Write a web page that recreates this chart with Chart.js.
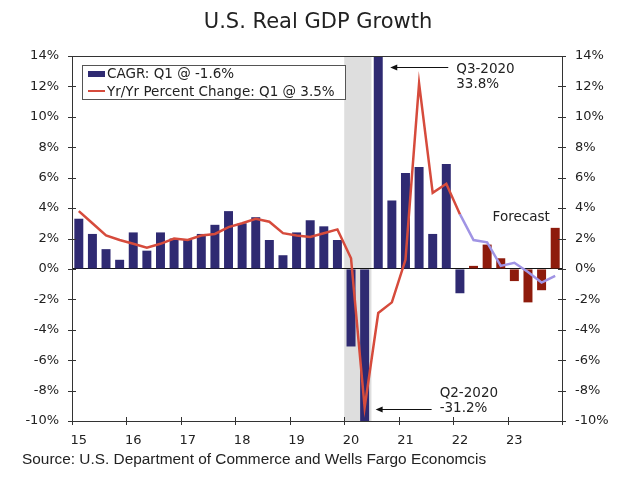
<!DOCTYPE html>
<html>
<head>
<meta charset="utf-8">
<title>U.S. Real GDP Growth</title>
<script src="https://cdn.jsdelivr.net/npm/chart.js@4"></script>
<style>
    body { margin: 0; background: #ffffff; }
    canvas { display: block; }
</style>
</head>
<body>
<canvas id="gdpChart" width="630" height="497"></canvas>
<script>
// quarters shown on the x axis, 2015 Q1 to 2023 Q4
const quarters = [
    '15Q1', '15Q2', '15Q3', '15Q4', '16Q1', '16Q2', '16Q3', '16Q4',
    '17Q1', '17Q2', '17Q3', '17Q4', '18Q1', '18Q2', '18Q3', '18Q4',
    '19Q1', '19Q2', '19Q3', '19Q4', '20Q1', '20Q2', '20Q3', '20Q4',
    '21Q1', '21Q2', '21Q3', '21Q4', '22Q1', '22Q2', '22Q3', '22Q4',
    '23Q1', '23Q2', '23Q3', '23Q4'
];

// CAGR, actual (15Q1 - 22Q1)
const cagrActual = [
    3.3, 2.3, 1.3, 0.6,
    2.4, 1.2, 2.4, 2.0,
    1.9, 2.3, 2.9, 3.8,
    3.0, 3.4, 1.9, 0.9,
    2.4, 3.2, 2.8, 1.9,
    -5.1, -31.2, 33.8, 4.5,
    6.3, 6.7, 2.3, 6.9,
    -1.6
];
// CAGR, forecast (22Q2 - 23Q4)
const cagrForecast = [0.2, 1.6, 0.7, -0.8, -2.2, -1.4, 2.7];

// Yr/Yr percent change, actual (15Q1 - 22Q1)
const yoyActual = [
    3.8, 3.0, 2.2, 1.9,
    1.65, 1.4, 1.65, 2.0,
    1.9, 2.2, 2.3, 2.75,
    3.0, 3.3, 3.1, 2.35,
    2.2, 2.1, 2.35, 2.6,
    0.7, -9.1, -2.9, -2.2,
    0.6, 12.2, 5.0, 5.6,
    3.6
];
// Yr/Yr percent change, forecast (22Q1 - 23Q4)
const yoyForecast = [3.6, 1.9, 1.75, 0.2, 0.4, -0.2, -0.9, -0.45];

const recessionQuarters = ['20Q1', '20Q2'];
const yTicks = { min: -10, max: 14, step: 2 };

const navy = '#2f2a72';
const darkRed = '#8e1b0c';
const lineRed = '#d64b3c';
const lavender = '#a094e4';
const axisColor = '#333333';
const textColor = '#222222';
const fontFamily = 'DejaVu Sans';

// pad series out to the full quarter range
const nulls = n => Array(n).fill(null);
const cagrActualData = cagrActual.concat(nulls(cagrForecast.length));
const cagrForecastData = nulls(cagrActual.length).concat(cagrForecast);
const yoyActualData = yoyActual.concat(nulls(quarters.length - yoyActual.length));
const yoyForecastData = nulls(yoyActual.length - 1).concat(yoyForecast);

function line(ctx, x1, y1, x2, y2) {
    ctx.beginPath();
    ctx.moveTo(x1, y1);
    ctx.lineTo(x2, y2);
    ctx.stroke();
}

function arrow(ctx, fromX, toX, y) {
    ctx.strokeStyle = '#111';
    ctx.fillStyle = '#111';
    ctx.lineWidth = 1;
    line(ctx, fromX, y, toX + 5, y);
    ctx.beginPath();
    ctx.moveTo(toX, y);
    ctx.lineTo(toX + 7, y - 3);
    ctx.lineTo(toX + 7, y + 3);
    ctx.closePath();
    ctx.fill();
}

const decorations = {
    id: 'decorations',
    beforeDraw(chart) {
        const { ctx, chartArea, scales: { x } } = chart;
        const step = x.getPixelForValue(1) - x.getPixelForValue(0);
        const left = x.getPixelForValue(quarters.indexOf(recessionQuarters[0])) - step / 2;
        const right = x.getPixelForValue(quarters.indexOf(recessionQuarters[1])) + step / 2;
        ctx.save();
        ctx.fillStyle = '#dedede';
        ctx.fillRect(left, chartArea.top, right - left, chartArea.bottom - chartArea.top);
        ctx.restore();
    },
    afterDraw(chart) {
        const { ctx, chartArea, scales: { x, y } } = chart;
        const step = x.getPixelForValue(1) - x.getPixelForValue(0);
        ctx.save();

        // frame top and crossing tick marks
        ctx.strokeStyle = axisColor;
        ctx.lineWidth = 1;
        const top = Math.round(chartArea.top) + 0.5;
        line(ctx, chartArea.left, top, chartArea.right, top);
        y.ticks.forEach(t => {
            const py = Math.round(y.getPixelForValue(t.value)) + 0.5;
            line(ctx, chartArea.left - 4, py, chartArea.left + 4, py);
            line(ctx, chartArea.right - 4, py, chartArea.right + 4, py);
        });
        quarters.forEach((q, i) => {
            if (q.endsWith('Q1')) {
                const px = Math.round(x.getPixelForValue(i) - step / 2) + 0.5;
                line(ctx, px, chartArea.bottom - 4, px, chartArea.bottom + 4);
            }
        });
        const lastX = Math.round(chartArea.right) + 0.5;
        line(ctx, lastX, chartArea.bottom - 4, lastX, chartArea.bottom + 4);

        // legend
        ctx.fillStyle = '#ffffff';
        ctx.fillRect(82, 65, 263, 34);
        ctx.strokeStyle = '#555555';
        ctx.strokeRect(82.5, 65.5, 263, 34);
        ctx.fillStyle = navy;
        ctx.fillRect(88, 71, 17, 6);
        ctx.strokeStyle = lineRed;
        ctx.lineWidth = 2;
        line(ctx, 88, 91, 105, 91);
        ctx.fillStyle = textColor;
        ctx.font = '13.5px "' + fontFamily + '"';
        ctx.textBaseline = 'middle';
        ctx.textAlign = 'left';
        ctx.fillText('CAGR: Q1 @ ' + cagrActual[cagrActual.length - 1] + '%', 107, 74);
        ctx.fillText('Yr/Yr Percent Change: Q1 @ 3.5%', 107, 92);

        // annotations
        const q3 = quarters.indexOf('20Q3');
        const q3Tip = x.getPixelForValue(q3) + 12;
        const q3Y = Math.round(y.getPixelForValue(13.3)) + 0.5;
        arrow(ctx, q3Tip + 58, q3Tip, q3Y);
        ctx.fillStyle = textColor;
        ctx.fillText('Q3-2020', q3Tip + 66, q3Y + 2);
        ctx.fillText(cagrActual[q3] + '%', q3Tip + 66, q3Y + 17);

        const q2 = quarters.indexOf('20Q2');
        const q2Tip = x.getPixelForValue(q2) + 11;
        const q2Y = Math.round(y.getPixelForValue(-9.2)) + 0.5;
        arrow(ctx, q2Tip + 56, q2Tip, q2Y);
        ctx.fillStyle = textColor;
        ctx.fillText('Q2-2020', q2Tip + 64, q2Y - 16);
        ctx.fillText(cagrActual[q2] + '%', q2Tip + 64, q2Y - 1);

        ctx.textAlign = 'center';
        const fx = (x.getPixelForValue(quarters.indexOf('23Q1')) + x.getPixelForValue(quarters.indexOf('23Q2'))) / 2;
        ctx.fillText('Forecast', fx, y.getPixelForValue(3.4));

        // title and source
        ctx.font = '21px "' + fontFamily + '"';
        ctx.textBaseline = 'alphabetic';
        ctx.fillText('U.S. Real GDP Growth', 318, 28);
        ctx.textAlign = 'left';
        ctx.font = '15.4px "Liberation Sans"';
        ctx.fillText('Source: U.S. Department of Commerce and Wells Fargo Economcis', 22, 464);
        ctx.restore();
    }
};

const tickFont = { family: fontFamily, size: 13 };
const percent = v => v + '%';

const ctx = document.getElementById('gdpChart').getContext('2d');
window.gdpChart = new Chart(ctx, {
    type: 'bar',
    data: {
        labels: quarters,
        datasets: [
            {
                type: 'line',
                label: 'Yr/Yr Percent Change',
                data: yoyActualData,
                borderColor: lineRed,
                borderWidth: 2.5,
                pointRadius: 0,
                tension: 0,
                order: 0
            },
            {
                type: 'line',
                label: 'Yr/Yr Forecast',
                data: yoyForecastData,
                borderColor: lavender,
                borderWidth: 2.5,
                pointRadius: 0,
                tension: 0,
                order: 0
            },
            {
                label: 'CAGR',
                data: cagrActualData,
                backgroundColor: navy,
                grouped: false,
                barPercentage: 0.66,
                categoryPercentage: 1,
                order: 1
            },
            {
                label: 'CAGR Forecast',
                data: cagrForecastData,
                backgroundColor: darkRed,
                grouped: false,
                barPercentage: 0.66,
                categoryPercentage: 1,
                order: 1
            }
        ]
    },
    options: {
        responsive: false,
        animation: false,
        layout: { padding: { top: 56, bottom: 46, left: 0, right: 0 } },
        plugins: {
            legend: { display: false },
            tooltip: { enabled: false },
            title: { display: false }
        },
        scales: {
            x: {
                offset: true,
                grid: { display: false },
                border: { display: true, color: axisColor, width: 1 },
                ticks: {
                    autoSkip: false,
                    maxRotation: 0,
                    padding: 4,
                    color: textColor,
                    font: tickFont,
                    callback: (v, i) => quarters[i].endsWith('Q1') ? quarters[i].slice(0, 2) : ''
                },
                afterFit: scale => { scale.height = 30; }
            },
            y: {
                type: 'linear',
                position: 'left',
                min: yTicks.min,
                max: yTicks.max,
                ticks: { stepSize: yTicks.step, padding: 13, color: textColor, font: tickFont, callback: percent },
                grid: {
                    drawTicks: false,
                    color: c => (c.tick && c.tick.value === 0) ? '#111111' : 'rgba(0,0,0,0)'
                },
                border: { display: true, color: axisColor, width: 1 },
                afterFit: scale => { scale.width = 72; }
            },
            y2: {
                type: 'linear',
                position: 'right',
                min: yTicks.min,
                max: yTicks.max,
                ticks: { stepSize: yTicks.step, padding: 13, color: textColor, font: tickFont, callback: percent },
                grid: { display: false, drawTicks: false },
                border: { display: true, color: axisColor, width: 1 },
                afterFit: scale => { scale.width = 68; }
            }
        }
    },
    plugins: [decorations]
});
</script>
</body>
</html>
